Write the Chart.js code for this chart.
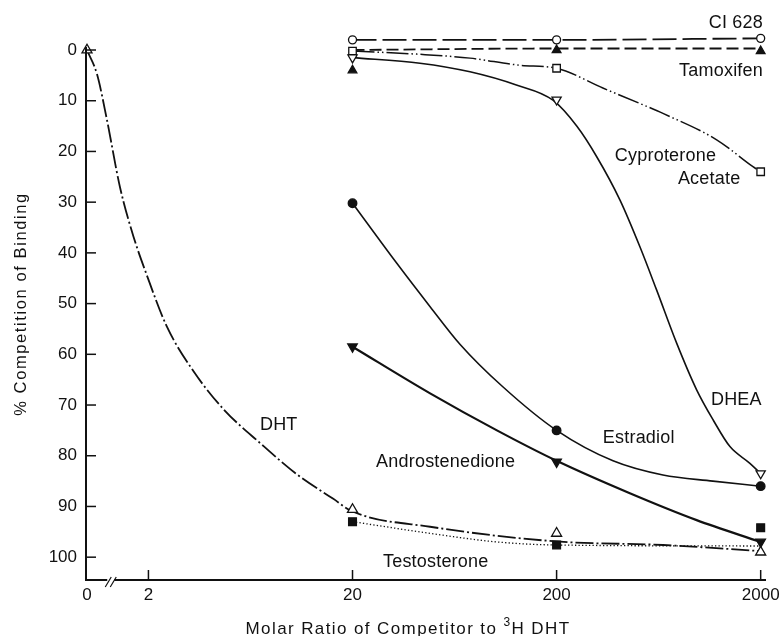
<!DOCTYPE html>
<html>
<head>
<meta charset="utf-8">
<script src="https://cdn.jsdelivr.net/npm/chart.js@4"></script>
<style>
  html, body { margin: 0; padding: 0; background: #fff; }
  #wrap { width: 779px; height: 636px; }
</style>
</head>
<body>
<div id="wrap"><canvas id="c" width="779" height="636"></canvas></div>
<script>
// ---------- axis ticks ----------
const xTickValues = [1, 2, 20, 200, 2000];          // 1 = position of "0" on the broken axis
const xTickLabels = ['0', '2', '20', '200', '2000'];
const yTickValues = [0, 10, 20, 30, 40, 50, 60, 70, 80, 90, 100];
const ZERO_AT = 1;                                    // axis position that stands for ratio 0

// ---------- measured points (molar ratio -> % competition) ----------
const ratios = [20, 200, 2000];
const dhtRatios = [0, 20, 200, 2000];
const dhtValues = [0, 90.6, 95.3, 99];
const testosteroneValues = [93, 97.6, 94.2];
const androstenedioneValues = [58.5, 81.2, 97];
const estradiolValues = [30.2, 75, 86];
const dheaValues = [1.5, 9.8, 83.5];
const cyproteroneValues = [0.2, 3.6, 24];
const tamoxifenValues = [4, 0, 0.2];
const ci628Values = [-2, -2, -2.3];

// ---------- fitted curves ----------
const dhtCurveX = [0, 1.12, 1.25, 1.45, 1.69, 1.96, 2.46, 3.32, 4.66, 7.05, 10.7, 16.1, 20, 48, 200, 664, 2000];
const dhtCurveY = [0, 4.8, 13.6, 27, 36.8, 44.3, 54.5, 63.3, 70.8, 77.5, 83.7, 88.5, 91, 94, 96.9, 97.6, 98.8];
const testosteroneCurveX = [20, 48, 102, 200, 2000];
const testosteroneCurveY = [93, 95.3, 97, 97.6, 97.8];
const androstenedioneCurveX = [20, 48, 102, 200, 457, 971, 2000];
const androstenedioneCurveY = [58.5, 67.7, 75, 81, 87.4, 92.7, 97];
const estradiolCurveX = [20, 32.9, 48, 67.2, 109, 200, 378, 664, 1167, 2000];
const estradiolCurveY = [30.2, 42, 50.6, 58, 66.4, 75, 81, 83.8, 85, 86];
const dheaCurveX = [20, 42.8, 75.3, 127, 192, 251, 314, 409, 512, 618, 775, 971, 1172, 1414, 1771, 2000];
const dheaCurveY = [1.5, 2.6, 4.3, 6.9, 9.9, 15, 21, 29.6, 38.8, 47.3, 57.8, 67, 73, 78.2, 81.5, 83.5];
const cyproteroneCurveX = [20, 42.8, 75.3, 132, 200, 337, 530, 664, 1217, 1833, 2000];
const cyproteroneCurveY = [0.2, 0.85, 1.6, 3.0, 3.6, 7.5, 10.8, 12.5, 17.7, 23, 24];
const tamoxifenCurveX = [20, 200, 2000];
const tamoxifenCurveY = [0, -0.3, -0.3];
const ci628CurveX = [20, 200, 2000];
const ci628CurveY = [-2, -2, -2.3];

// ---------- curve labels (text, anchor in data coords) ----------
const curveLabels = [
  { text: 'CI 628', x: 2052, y: -5.3, align: 'right' },
  { text: 'Tamoxifen', x: 2052, y: 4.1, align: 'right' },
  { text: 'Cyproterone', x: 386, y: 21.0, align: 'left' },
  { text: 'Acetate', x: 786, y: 25.4, align: 'left' },
  { text: 'DHEA', x: 1141, y: 69.0, align: 'left' },
  { text: 'Estradiol', x: 337, y: 76.5, align: 'left' },
  { text: 'Androstenedione', x: 26.1, y: 81.2, align: 'left' },
  { text: 'Testosterone', x: 28.2, y: 100.9, align: 'left' },
  { text: 'DHT', x: 7.04, y: 73.9, align: 'left' }
];

const Y_AXIS_TOP = -0.6;   // value where the drawn y-axis line starts
const INK = '#111';
const FONT = '"Liberation Sans", Arial, Helvetica, sans-serif';

function pts(xs, ys) {
  return xs.map((x, i) => ({ x: x === 0 ? ZERO_AT : x, y: ys[i] }));
}
function curve(label, xs, ys, dash, width) {
  return {
    label, data: pts(xs, ys), borderColor: INK, borderWidth: width, borderDash: dash,
    pointRadius: 0, pointHoverRadius: 0, fill: false, cubicInterpolationMode: 'monotone',
    clip: false, order: 2, borderCapStyle: 'butt'
  };
}
function marks(label, xs, ys, style, filled, r, rot) {
  return {
    label, data: pts(xs, ys), showLine: false, pointStyle: style, pointRadius: r,
    pointHoverRadius: r, pointRotation: rot || 0,
    pointBackgroundColor: filled ? INK : '#fff', pointBorderColor: INK, pointBorderWidth: 1.3,
    clip: false, order: 1
  };
}

const datasets = [
  curve('DHT curve', dhtCurveX, dhtCurveY, [18, 3, 2, 3], 1.8),
  curve('Testosterone curve', testosteroneCurveX, testosteroneCurveY, [1.3, 2.2], 1.3),
  curve('Androstenedione curve', androstenedioneCurveX, androstenedioneCurveY, [], 2.2),
  curve('Estradiol curve', estradiolCurveX, estradiolCurveY, [], 1.6),
  curve('DHEA curve', dheaCurveX, dheaCurveY, [], 1.6),
  curve('Cyproterone Acetate curve', cyproteroneCurveX, cyproteroneCurveY, [22, 3, 1.5, 3, 1.5, 3], 1.5),
  curve('Tamoxifen curve', tamoxifenCurveX, tamoxifenCurveY, [12, 5], 1.8),
  curve('CI 628 curve', ci628CurveX, ci628CurveY, [24, 6], 1.8),

  marks('DHT', dhtRatios, dhtValues, 'triangle', false, 5.8),
  marks('Testosterone', ratios, testosteroneValues, 'rect', true, 5.5),
  marks('Androstenedione', ratios, androstenedioneValues, 'triangle', true, 5.5, 180),
  marks('Estradiol', ratios, estradiolValues, 'circle', true, 4.3),
  marks('DHEA', ratios, dheaValues, 'triangle', false, 5.3, 180),
  marks('Cyproterone Acetate', ratios, cyproteroneValues, 'rect', false, 5.3),
  marks('Tamoxifen', ratios, tamoxifenValues, 'triangle', true, 5),
  marks('CI 628', ratios, ci628Values, 'circle', false, 4)
];

const decor = {
  id: 'decor',
  afterDraw(chart) {
    const { ctx, chartArea: a, scales: { x, y } } = chart;
    ctx.save();
    ctx.strokeStyle = INK;
    const seg = (x1, y1, x2, y2) => { ctx.beginPath(); ctx.moveTo(x1, y1); ctx.lineTo(x2, y2); ctx.stroke(); };
    // y axis line (starts just above 0)
    ctx.lineWidth = 2;
    seg(a.left - 1, y.getPixelForValue(Y_AXIS_TOP), a.left - 1, a.bottom + 1);
    // inward tick marks
    ctx.lineWidth = 1.5;
    yTickValues.forEach(v => { const py = y.getPixelForValue(v); seg(a.left, py, a.left + 9, py); });
    xTickValues.slice(1).forEach(v => { const px = x.getPixelForValue(v); seg(px, a.bottom, px, a.bottom - 10); });
    // axis break between 0 and 2
    const bx = x.getPixelForValue(1.3);
    ctx.fillStyle = '#fff';
    ctx.fillRect(bx - 3, a.bottom - 2, 7, 4);
    ctx.lineWidth = 1.2;
    seg(bx - 5, a.bottom + 7, bx + 1, a.bottom - 3);
    seg(bx, a.bottom + 7, bx + 6, a.bottom - 3);

    // curve labels
    ctx.fillStyle = INK;
    ctx.font = '18px ' + FONT;
    ctx.letterSpacing = '0.2px';
    ctx.textBaseline = 'middle';
    curveLabels.forEach(l => {
      ctx.textAlign = l.align;
      ctx.fillText(l.text, x.getPixelForValue(l.x), y.getPixelForValue(l.y));
    });

    // y axis title
    ctx.save();
    ctx.translate(21, 304);
    ctx.rotate(-Math.PI / 2);
    ctx.font = '16.5px ' + FONT;
    ctx.letterSpacing = '1.6px';
    ctx.textAlign = 'center';
    ctx.textBaseline = 'middle';
    ctx.fillText('% Competition of Binding', 0, 0);
    ctx.restore();

    // x axis title with superscript 3
    ctx.textAlign = 'left';
    ctx.textBaseline = 'alphabetic';
    ctx.letterSpacing = '1.4px';
    const p1 = 'Molar Ratio of Competitor to ', p2 = '3', p3 = 'H DHT';
    ctx.font = '17px ' + FONT;
    const w1 = ctx.measureText(p1).width, w3 = ctx.measureText(p3).width;
    ctx.font = '12px ' + FONT;
    const w2 = ctx.measureText(p2).width;
    let sx = 408 - (w1 + w2 + w3) / 2;
    const base = 634;
    ctx.font = '17px ' + FONT;
    ctx.fillText(p1, sx, base); sx += w1;
    ctx.font = '12px ' + FONT;
    ctx.fillText(p2, sx, base - 8); sx += w2;
    ctx.font = '17px ' + FONT;
    ctx.fillText(p3, sx, base);
    ctx.restore();
  }
};

Chart.defaults.font.family = FONT;
Chart.defaults.color = INK;

new Chart(document.getElementById('c'), {
  type: 'line',
  data: { datasets },
  options: {
    responsive: false,
    animation: false,
    events: [],
    layout: { padding: { left: 0, top: 35, right: 14, bottom: 0 } },
    plugins: { legend: { display: false }, tooltip: { enabled: false }, title: { display: false } },
    scales: {
      x: {
        type: 'logarithmic',
        min: 1,
        max: 2100,
        afterBuildTicks: s => { s.ticks = xTickValues.map(v => ({ value: v })); },
        afterFit: s => { s.height = 56; s.paddingLeft = 0; s.paddingRight = 0; },
        ticks: {
          callback: (v, i) => xTickLabels[i],
          padding: 5, font: { size: 17 }, color: INK, maxRotation: 0, autoSkip: false
        },
        grid: { display: true, drawOnChartArea: false, drawTicks: false },
        border: { display: true, color: INK, width: 2 }
      },
      y: {
        type: 'linear',
        reverse: true,
        min: -2.96,
        max: 104.5,
        afterBuildTicks: s => { s.ticks = yTickValues.map(v => ({ value: v })); },
        afterFit: s => { s.width = 87; s.paddingTop = 0; s.paddingBottom = 0; },
        ticks: { padding: 10, font: { size: 17 }, color: INK, autoSkip: false },
        grid: { display: true, drawOnChartArea: false, drawTicks: false },
        border: { display: false }
      }
    }
  },
  plugins: [decor]
});
</script>
</body>
</html>
